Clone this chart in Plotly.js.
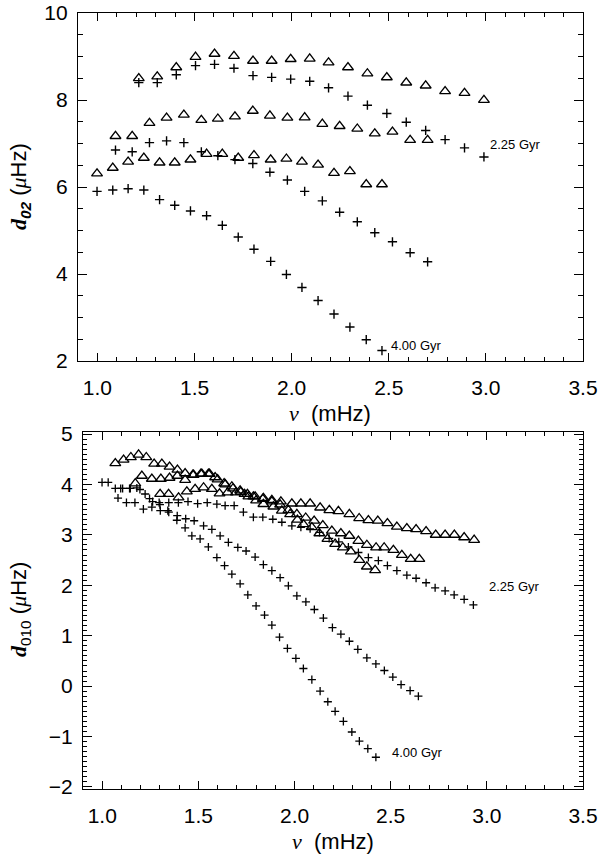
<!DOCTYPE html>
<html>
<head>
<meta charset="utf-8">
<script src="https://cdn.plot.ly/plotly-3.0.1.min.js"></script>
<style>html,body{margin:0;padding:0;background:#fff}#chart{width:600px;height:855px}</style>
</head>
<body>
<div id="chart"></div>
<script>
// ---------- Top panel: d02 ----------
var topNu225 = [1.213,1.308,1.406,1.505,1.603,1.703,1.801,1.897,1.995,2.093,2.190,2.290,2.390,2.490,2.590,2.690,2.790,2.890,2.990];
var topD225Tri = [8.50,8.54,8.75,8.99,9.06,9.01,8.90,8.90,8.94,8.95,8.86,8.75,8.61,8.52,8.40,8.33,8.20,8.16,8.00];
var topD225Plus = [8.40,8.40,8.58,8.79,8.82,8.73,8.56,8.52,8.48,8.43,8.28,8.09,7.88,7.69,7.49,7.30,7.09,6.90,6.69];

var topNuMid = [1.093,1.179,1.268,1.356,1.445,1.535,1.620,1.708,1.800,1.888,1.978,2.067,2.158,2.247,2.338,2.428,2.519,2.610,2.700];
var topDMidTri = [7.17,7.17,7.47,7.59,7.66,7.54,7.57,7.62,7.75,7.64,7.59,7.60,7.45,7.40,7.34,7.23,7.27,7.08,7.08];
var topDMidPlus = [6.85,6.81,7.02,7.06,7.02,6.81,6.72,6.63,6.54,6.34,6.16,5.90,5.68,5.42,5.20,4.95,4.74,4.49,4.28];

var topNu400 = [0.998,1.079,1.158,1.239,1.320,1.398,1.479,1.562,1.643,1.725,1.806,1.892,1.973,2.053,2.136,2.218,2.300,2.384,2.465];
var topD400Tri = [6.31,6.44,6.58,6.67,6.56,6.56,6.63,6.76,6.76,6.67,6.73,6.63,6.65,6.58,6.51,6.32,6.36,6.06,6.06];
var topD400Plus = [5.90,5.93,5.96,5.93,5.71,5.58,5.45,5.34,5.12,4.85,4.57,4.29,3.99,3.69,3.39,3.08,2.78,2.49,2.24];

// ---------- Bottom panel: d010 ----------
var botNu225Tri = [1.068,1.111,1.149,1.189,1.229,1.270,1.310,1.350,1.391,1.431,1.471,1.513,1.552,1.587,1.634,1.674,1.717,1.755,1.795,1.838,1.882,1.929,1.986,2.033,2.081,2.133,2.181,2.228,2.285,2.336,2.384,2.433,2.483,2.532,2.584,2.632,2.684,2.734,2.783,2.831,2.882,2.934];
var botD225Tri = [4.42,4.49,4.54,4.59,4.54,4.41,4.41,4.35,4.29,4.22,4.19,4.21,4.21,4.14,4.02,3.96,3.88,3.81,3.76,3.73,3.69,3.66,3.62,3.62,3.62,3.54,3.49,3.47,3.41,3.33,3.29,3.28,3.23,3.16,3.13,3.11,3.07,3.00,3.00,3.00,2.95,2.90];
var botNu225Plus = [1.096,1.146,1.196,1.246,1.296,1.346,1.396,1.446,1.496,1.546,1.596,1.639,1.686,1.734,1.786,1.835,1.887,1.934,1.986,2.033,2.081,2.130,2.180,2.230,2.280,2.332,2.384,2.436,2.483,2.532,2.584,2.632,2.684,2.731,2.783,2.830,2.882,2.930];
var botD225Plus = [3.92,3.92,3.90,3.72,3.64,3.64,3.64,3.66,3.62,3.64,3.61,3.58,3.58,3.45,3.35,3.35,3.31,3.25,3.18,3.15,3.12,3.05,2.93,2.86,2.76,2.65,2.55,2.49,2.39,2.29,2.20,2.14,2.05,1.95,1.89,1.81,1.72,1.61];

var botNuMidTri = [1.301,1.345,1.397,1.440,1.483,1.527,1.570,1.610,1.652,1.695,1.740,1.786,1.835,1.882,1.925,1.968,2.012,2.058,2.102,2.147,2.194,2.241,2.285,2.332,2.376,2.424,2.466,2.514,2.558,2.604,2.649];
var botDMidTri = [3.81,3.81,3.74,3.86,3.91,3.94,3.91,3.82,3.84,3.84,3.81,3.76,3.71,3.66,3.60,3.49,3.41,3.34,3.28,3.19,3.08,3.03,2.98,2.88,2.80,2.75,2.75,2.70,2.60,2.52,2.52];
var botNuMidPlus = [1.082,1.126,1.170,1.214,1.258,1.302,1.346,1.390,1.434,1.478,1.527,1.570,1.613,1.656,1.705,1.748,1.795,1.838,1.882,1.925,1.968,2.012,2.059,2.103,2.150,2.197,2.241,2.285,2.329,2.376,2.423,2.467,2.511,2.554,2.601,2.644];
var botDMidPlus = [3.73,3.64,3.64,3.51,3.55,3.48,3.45,3.38,3.32,3.28,3.18,3.11,2.98,2.85,2.75,2.68,2.56,2.41,2.29,2.15,1.99,1.79,1.67,1.52,1.35,1.16,1.03,0.89,0.73,0.56,0.44,0.31,0.18,0.03,-0.09,-0.20];

var botNu400Tri = [1.172,1.206,1.258,1.305,1.350,1.391,1.431,1.475,1.518,1.558,1.600,1.640,1.680,1.720,1.760,1.800,1.838,1.890,1.934,1.977,2.015,2.046,2.090,2.129,2.171,2.211,2.251,2.293,2.337,2.376,2.419];
var botD400Tri = [4.02,4.17,4.11,4.11,4.13,4.17,4.09,4.19,4.21,4.21,4.10,4.00,3.92,3.85,3.76,3.68,3.61,3.56,3.48,3.41,3.30,3.21,3.15,3.03,2.92,2.82,2.75,2.67,2.50,2.37,2.30];
var botNu400Plus = [0.999,1.031,1.068,1.106,1.142,1.180,1.223,1.262,1.300,1.341,1.388,1.431,1.466,1.509,1.552,1.596,1.636,1.674,1.717,1.757,1.800,1.844,1.882,1.922,1.963,2.007,2.046,2.090,2.133,2.173,2.211,2.254,2.298,2.337,2.381,2.423];
var botD400Plus = [4.04,4.04,3.92,3.92,3.92,3.93,3.81,3.66,3.60,3.48,3.29,3.14,2.98,2.92,2.76,2.55,2.39,2.22,2.03,1.81,1.59,1.41,1.21,0.97,0.75,0.55,0.35,0.13,-0.10,-0.31,-0.50,-0.70,-0.91,-1.09,-1.24,-1.41];

// Age labels
var ageLabels = ['2.25 Gyr', '4.00 Gyr'];
var topLabelNu = [3.012, 2.50];
var topLabelD = [6.97, 2.36];
var botLabelNu = [3.00, 2.497];
var botLabelD = [1.97, -1.32];

var xTickVals = [1.0, 1.5, 2.0, 2.5, 3.0, 3.5];
var xTickText = ['1.0', '1.5', '2.0', '2.5', '3.0', '3.5'];

var triStyle = {symbol: 'triangle-up-open', size: 9.5, color: '#000', line: {color: '#000', width: 1.3}};
var plusTop = {symbol: 'cross-thin-open', size: 6.6, color: '#000', line: {color: '#000', width: 1.4}};
var plusBot = {symbol: 'cross-thin-open', size: 5.8, color: '#000', line: {color: '#000', width: 1.3}};

function tr(x, y, m, xa, ya) {
  return {x: x, y: y, type: 'scatter', mode: 'markers', marker: m, xaxis: xa, yaxis: ya, hoverinfo: 'skip', showlegend: false, cliponaxis: true};
}

var data = [
  tr(topNu225, topD225Tri, triStyle, 'x', 'y'),
  tr(topNu225, topD225Plus, plusTop, 'x', 'y'),
  tr(topNuMid, topDMidTri, triStyle, 'x', 'y'),
  tr(topNuMid, topDMidPlus, plusTop, 'x', 'y'),
  tr(topNu400, topD400Tri, triStyle, 'x', 'y'),
  tr(topNu400, topD400Plus, plusTop, 'x', 'y'),
  tr(botNu225Tri, botD225Tri, triStyle, 'x2', 'y2'),
  tr(botNu225Plus, botD225Plus, plusBot, 'x2', 'y2'),
  tr(botNuMidTri, botDMidTri, triStyle, 'x2', 'y2'),
  tr(botNuMidPlus, botDMidPlus, plusBot, 'x2', 'y2'),
  tr(botNu400Tri, botD400Tri, triStyle, 'x2', 'y2'),
  tr(botNu400Plus, botD400Plus, plusBot, 'x2', 'y2')
];

var tickFont = {family: 'Liberation Sans, Arial, sans-serif', size: 21, color: '#000'};

function xAxis(domain, anchor) {
  return {
    domain: domain, anchor: anchor, range: [0.9, 3.5],
    tickmode: 'array', tickvals: xTickVals, ticktext: xTickText,
    ticks: 'inside', ticklen: 8, tickwidth: 1, tickcolor: '#000',
    minor: {dtick: 0.1, tick0: 0, ticks: 'inside', ticklen: 4, tickwidth: 1, tickcolor: '#000', showgrid: false},
    showline: true, linecolor: '#000', linewidth: 1.2, mirror: 'ticks',
    showgrid: false, zeroline: false, tickfont: tickFont, ticklabelstandoff: 8,
    ticklabeloverflow: 'allow'
  };
}

var layout = {
  width: 600, height: 855,
  margin: {l: 0, r: 0, t: 0, b: 0},
  paper_bgcolor: '#fff', plot_bgcolor: '#fff',
  showlegend: false,
  xaxis: xAxis([78/600, 583/600], 'y'),
  xaxis2: xAxis([83/600, 583/600], 'y2'),
  yaxis: {
    domain: [1 - 361/855, 1 - 13/855], anchor: 'x', range: [2, 10],
    tickmode: 'linear', tick0: 2, dtick: 2,
    ticks: 'inside', ticklen: 9, tickwidth: 1, tickcolor: '#000',
    minor: {dtick: 0.5, ticks: 'inside', ticklen: 5, tickwidth: 1, tickcolor: '#000', showgrid: false},
    showline: true, linecolor: '#000', linewidth: 1.2, mirror: 'ticks',
    showgrid: false, zeroline: false, tickfont: tickFont, ticklabelstandoff: 5,
    ticklabeloverflow: 'allow'
  },
  yaxis2: {
    domain: [1 - 789/855, 1 - 432/855], anchor: 'x2', range: [-2.04, 5.04],
    tickmode: 'linear', tick0: 0, dtick: 1,
    ticks: 'inside', ticklen: 9, tickwidth: 1, tickcolor: '#000',
    minor: {dtick: 0.1, ticks: 'inside', ticklen: 4, tickwidth: 1, tickcolor: '#000', showgrid: false},
    showline: true, linecolor: '#000', linewidth: 1.2, mirror: 'ticks',
    showgrid: false, zeroline: false, tickfont: tickFont, ticklabelstandoff: 5,
    ticklabeloverflow: 'allow'
  },
  annotations: [
    {xref: 'paper', yref: 'paper', x: 20/600, y: 1 - 187/855, textangle: -90, showarrow: false,
     xanchor: 'center', yanchor: 'middle',
     text: '<span style="font-family:Liberation Serif"><b><i>d</i></b></span><sub><b><i>02</i></b></sub> (<span style="font-family:Liberation Serif"><i>μ</i></span>Hz)',
     font: {family: 'Liberation Sans, Arial, sans-serif', size: 22, color: '#000'}},
    {xref: 'paper', yref: 'paper', x: 20/600, y: 1 - 610/855, textangle: -90, showarrow: false,
     xanchor: 'center', yanchor: 'middle',
     text: '<span style="font-family:Liberation Serif"><b><i>d</i></b></span><sub>010</sub> (<span style="font-family:Liberation Serif"><i>μ</i></span>Hz)',
     font: {family: 'Liberation Sans, Arial, sans-serif', size: 22, color: '#000'}},
    {xref: 'paper', yref: 'paper', x: 330/600, y: 1 - 414/855, showarrow: false, xanchor: 'center', yanchor: 'middle',
     text: '<span style="font-family:Liberation Serif"><i>ν</i></span>  (mHz)',
     font: {family: 'Liberation Sans, Arial, sans-serif', size: 22, color: '#000'}},
    {xref: 'paper', yref: 'paper', x: 333/600, y: 1 - 841/855, showarrow: false, xanchor: 'center', yanchor: 'middle',
     text: '<span style="font-family:Liberation Serif"><i>ν</i></span>  (mHz)',
     font: {family: 'Liberation Sans, Arial, sans-serif', size: 22, color: '#000'}},
    {xref: 'x', yref: 'y', x: topLabelNu[0], y: topLabelD[0], text: ageLabels[0], showarrow: false, xanchor: 'left', yanchor: 'middle',
     font: {family: 'Liberation Sans, Arial, sans-serif', size: 13, color: '#000'}},
    {xref: 'x', yref: 'y', x: topLabelNu[1], y: topLabelD[1], text: ageLabels[1], showarrow: false, xanchor: 'left', yanchor: 'middle',
     font: {family: 'Liberation Sans, Arial, sans-serif', size: 13, color: '#000'}},
    {xref: 'x2', yref: 'y2', x: botLabelNu[0], y: botLabelD[0], text: ageLabels[0], showarrow: false, xanchor: 'left', yanchor: 'middle',
     font: {family: 'Liberation Sans, Arial, sans-serif', size: 13, color: '#000'}},
    {xref: 'x2', yref: 'y2', x: botLabelNu[1], y: botLabelD[1], text: ageLabels[1], showarrow: false, xanchor: 'left', yanchor: 'middle',
     font: {family: 'Liberation Sans, Arial, sans-serif', size: 13, color: '#000'}}
  ]
};

Plotly.newPlot('chart', data, layout, {staticPlot: true, displayModeBar: false});
</script>
</body>
</html>
